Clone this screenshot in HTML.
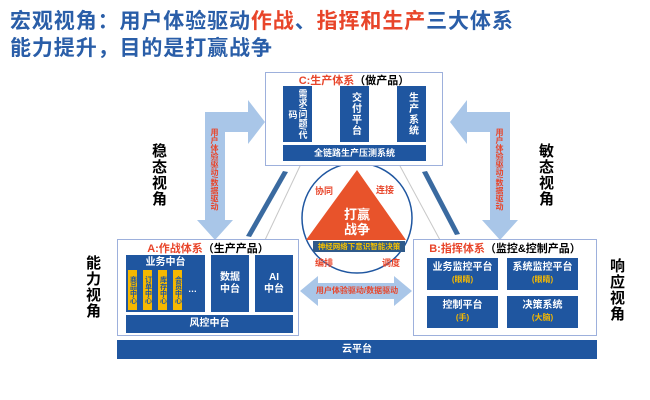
<!DOCTYPE html>
<html><head><meta charset="utf-8"><style>
body{margin:0;width:650px;height:400px;background:#fff;overflow:hidden;position:relative;font-family:"Liberation Sans","Noto Sans CJK SC",sans-serif;font-weight:bold}
.a{position:absolute;box-sizing:border-box}
.bl{background:#1f56a0;color:#fff;display:flex;align-items:center;justify-content:center;text-align:center;font-size:10px;line-height:12px;white-space:nowrap}
.bd{border:1.5px solid #9db0dc;background:#fff}
.vt{writing-mode:vertical-rl;letter-spacing:1px}
.red{color:#e8452a}
.y{background:#f5b800;color:#1f56a0;font-size:7px;line-height:8px;writing-mode:vertical-rl;display:flex;align-items:center;justify-content:center}
</style></head><body>
<div class="a" style="left:10px;top:8px;font-size:21px;color:#2a5ea8;line-height:27px;letter-spacing:0.9px">宏观视角：用户体验驱动<span class="red">作战</span>、<span class="red">指挥和生产</span>三大体系<br>能力提升，目的是打赢战争</div>

<svg class="a" style="left:0;top:0" width="650" height="400">
<polygon points="205,220 205,112 248,112 248,100 265,122 248,144 248,132 225,132 225,220 233,220 215,240 197,220" fill="#a9c6e8"/>
<polygon points="510,220 510,112 467,112 467,100 450,122 467,144 467,132 490,132 490,220 482,220 500,240 518,220" fill="#a9c6e8"/>
<polygon points="300,291 318,276 318,283 394,283 394,276 412,291 394,306 394,299 318,299 318,306" fill="#a9c6e8"/>
<line x1="300" y1="166" x2="265" y2="240" stroke="#c8c8c8" stroke-width="1"/>
<line x1="400" y1="166" x2="440" y2="240" stroke="#c8c8c8" stroke-width="1"/>
<circle cx="357" cy="218" r="55" fill="none" stroke="#1f56a0" stroke-width="1.5"/>
<polygon points="357,170 306,240 406,240" fill="#e8532b"/>
<polygon points="246,236 251,237 288,172 283,171" fill="#3a6aa0"/>
<polygon points="422,172 427,171 460,234 455,235" fill="#3a6aa0"/>
<circle cx="500" cy="293" r="16" fill="none" stroke="#f5b800" stroke-width="1.5"/>
</svg>

<div class="a bd" style="left:265px;top:72px;width:178px;height:94px"></div>
<div class="a" style="left:265px;top:72px;width:178px;text-align:center;font-size:11px"><span class="red">C:生产体系</span>（做产品）</div>
<div class="a bl vt" style="left:283px;top:86px;width:29px;height:56px;font-size:9px;line-height:10px;letter-spacing:0;white-space:normal">需求/问题/代码</div>
<div class="a bl vt" style="left:340px;top:86px;width:29px;height:56px">交付平台</div>
<div class="a bl vt" style="left:397px;top:86px;width:29px;height:56px">生产系统</div>
<div class="a bl" style="left:283px;top:145px;width:143px;height:16px;font-size:9px">全链路生产压测系统</div>

<div class="a vt" style="left:148px;top:143px;font-size:15px">稳态视角</div>
<div class="a vt" style="left:535px;top:143px;font-size:15px">敏态视角</div>
<div class="a vt" style="left:82px;top:255px;font-size:15px">能力视角</div>
<div class="a vt" style="left:606px;top:258px;font-size:15px">响应视角</div>
<div class="a vt red" style="left:209px;top:128px;font-size:8px;letter-spacing:0">用户体验驱动/数据驱动</div>
<div class="a vt red" style="left:494px;top:128px;font-size:8px;letter-spacing:0">用户体验驱动/数据驱动</div>

<div class="a" style="left:335px;top:207px;color:#fff;font-size:13px;line-height:15px;text-align:center;width:44px">打赢<br>战争</div>
<div class="a red" style="left:315px;top:184px;font-size:9px">协同</div>
<div class="a red" style="left:376px;top:183px;font-size:9px">连接</div>
<div class="a red" style="left:315px;top:256px;font-size:9px">编排</div>
<div class="a red" style="left:382px;top:256px;font-size:9px">调度</div>
<div class="a" style="left:313px;top:241px;width:92px;height:11px;background:#2f5a8a;color:#f5c000;font-size:7.5px;line-height:11px;text-align:center;white-space:nowrap">神经网络下意识智能决策</div>
<div class="a red" style="left:312px;top:285px;width:90px;text-align:center;font-size:8px">用户体验驱动/数据驱动</div>

<div class="a bd" style="left:117px;top:239px;width:182px;height:97px"></div>
<div class="a" style="left:117px;top:240px;width:182px;text-align:center;font-size:11px"><span class="red">A:作战体系</span>（生产产品）</div>
<div class="a bl" style="left:126px;top:255px;width:79px;height:57px;align-items:flex-start;padding-top:2px">业务中台</div>
<div class="a y" style="left:128px;top:270px;width:9px;height:40px">商品中心</div>
<div class="a y" style="left:143px;top:270px;width:9px;height:40px">订单中心</div>
<div class="a y" style="left:158px;top:270px;width:9px;height:40px">库存中心</div>
<div class="a y" style="left:173px;top:270px;width:9px;height:40px">会员中心</div>
<div class="a" style="left:188px;top:284px;color:#fff;font-size:9px">…</div>
<div class="a bl" style="left:211px;top:255px;width:38px;height:57px"><div>数据<br>中台</div></div>
<div class="a bl" style="left:255px;top:255px;width:38px;height:57px"><div>AI<br>中台</div></div>
<div class="a bl" style="left:126px;top:315px;width:167px;height:18px">风控中台</div>

<div class="a bd" style="left:413px;top:239px;width:184px;height:97px"></div>
<div class="a" style="left:413px;top:240px;width:184px;text-align:center;font-size:11px"><span class="red">B:指挥体系</span>（监控&amp;控制产品）</div>
<div class="a bl" style="left:427px;top:258px;width:71px;height:32px"><div>业务监控平台<br><span style="color:#f5b800;font-size:8px">(眼睛)</span></div></div>
<div class="a bl" style="left:507px;top:258px;width:71px;height:32px"><div>系统监控平台<br><span style="color:#f5b800;font-size:8px">(眼睛)</span></div></div>
<div class="a bl" style="left:427px;top:296px;width:71px;height:32px"><div>控制平台<br><span style="color:#f5b800;font-size:8px">(手)</span></div></div>
<div class="a bl" style="left:507px;top:296px;width:71px;height:32px"><div>决策系统<br><span style="color:#f5b800;font-size:8px">(大脑)</span></div></div>

<div class="a bl" style="left:117px;top:340px;width:480px;height:19px">云平台</div>
</body></html>
